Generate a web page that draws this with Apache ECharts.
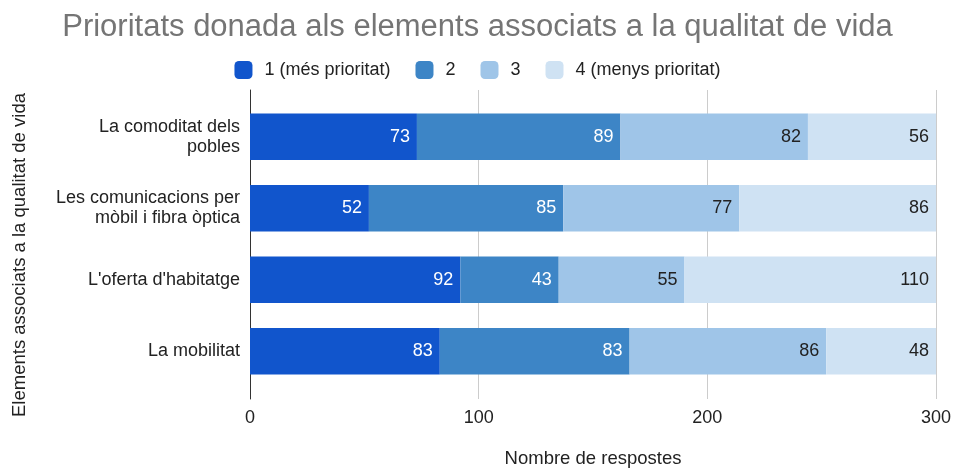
<!DOCTYPE html>
<html>
<head>
<meta charset="utf-8">
<script src="https://cdn.jsdelivr.net/npm/echarts@6/dist/echarts.min.js"></script>
<style>html,body{margin:0;padding:0;background:#fff}#c{width:955px;height:468px}</style>
</head>
<body>
<div id="c"></div>
<script>
const categories = ["La comoditat dels\npobles", "Les comunicacions per\nmòbil i fibra òptica", "L'oferta d'habitatge", "La mobilitat"];
const seriesNames = ["1 (més prioritat)", "2", "3", "4 (menys prioritat)"];
const s1 = [73, 52, 92, 83];
const s2 = [89, 85, 43, 83];
const s3 = [82, 77, 55, 86];
const s4 = [56, 86, 110, 48];
const xTicks = [0, 100, 200, 300];

const colors = ["#1155cc", "#3d85c6", "#9fc5e8", "#cfe2f3"];
const labelColors = ["#ffffff", "#ffffff", "#222222", "#222222"];
const font = "Liberation Sans, Arial, sans-serif";
const chart = echarts.init(document.getElementById('c'));
const data = [s1, s2, s3, s4];
chart.setOption({
  animation: false,
  textStyle: {fontFamily: font},
  title: {
    text: "Prioritats donada als elements associats a la qualitat de vida",
    left: 'center', top: 7,
    textStyle: {fontFamily: font, fontSize: 31, fontWeight: 'normal', color: '#757575'}
  },
  legend: {
    top: 56, left: 'center',
    itemWidth: 18, itemHeight: 18, itemGap: 25,
    icon: 'roundRect',
    textStyle: {fontFamily: font, fontSize: 18, color: '#222', padding: [0, 0, 0, 7]},
    data: seriesNames
  },
  grid: [
    {left: 250, right: 19, top: 101, bottom: 81, containLabel: false, outerBoundsMode: 'none'},
    {left: 250, right: 19, top: 90, bottom: 69, containLabel: false, outerBoundsMode: 'none'}
  ],
  xAxis: [
    {
      gridIndex: 0, type: 'value', min: 0, max: 300, interval: 100,
      axisLabel: {show: false}, splitLine: {show: false},
      axisLine: {show: false}, axisTick: {show: false}
    },
    {
      gridIndex: 1, type: 'value', min: 0, max: 300, interval: 100,
      name: "Nombre de respostes", nameLocation: 'middle', nameGap: 50,
      nameTextStyle: {fontFamily: font, fontSize: 18.5, color: '#222'},
      axisLabel: {fontFamily: font, fontSize: 18, color: '#222', margin: 10,
        formatter: v => xTicks.includes(v) ? String(v) : ''},
      splitLine: {lineStyle: {color: '#cccccc'}},
      axisLine: {show: false}, axisTick: {show: false}
    }
  ],
  yAxis: [
    {
      gridIndex: 0, type: 'category', inverse: true, data: categories,
      name: "Elements associats a la qualitat de vida", nameLocation: 'middle', nameGap: 221,
      nameTextStyle: {fontFamily: font, fontSize: 18.5, color: '#222', padding: [0, 22, 0, 0]},
      axisLabel: {fontFamily: font, fontSize: 18, color: '#222', margin: 10, lineHeight: 20},
      axisLine: {show: false},
      axisTick: {show: false}
    },
    {
      gridIndex: 1, type: 'value', min: 0, max: 1,
      axisLabel: {show: false}, splitLine: {show: false}, axisTick: {show: false},
      axisLine: {show: true, lineStyle: {color: '#333', width: 1}}
    }
  ],
  series: data.map((d, i) => ({
    name: seriesNames[i], type: 'bar', stack: 'total', data: d,
    xAxisIndex: 0, yAxisIndex: 0,
    barCategoryGap: '35%',
    itemStyle: {color: colors[i]},
    label: {show: true, position: 'insideRight', distance: 7, fontFamily: font, fontSize: 18, color: labelColors[i]}
  }))
});
</script>
</body>
</html>
